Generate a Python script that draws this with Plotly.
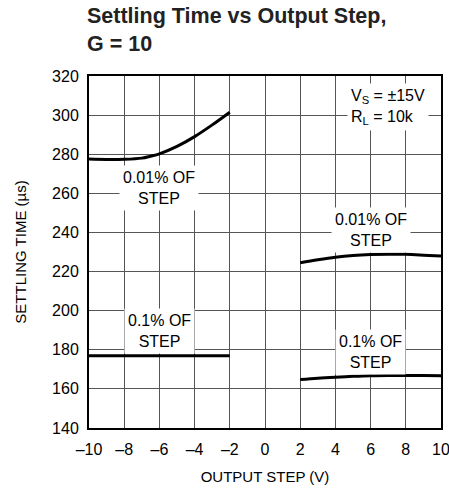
import plotly.graph_objects as go

# data
x_neg = [-10, -9, -8, -7, -6.5, -6, -5, -4, -3, -2]
t001_neg = [277.5, 277.3, 277.4, 278.0, 279.0, 280.2, 284.0, 289.0, 295.0, 301.5]
x_neg01 = [-10, -8, -6, -4, -2]
t01_neg = [177, 177, 177, 177, 177]
x_pos = [2, 3, 4, 5, 6, 7, 8, 9, 10]
t001_pos = [224.5, 226.0, 227.3, 228.2, 228.7, 228.9, 228.8, 228.4, 227.9]
t01_pos = [164.8, 165.5, 166.0, 166.4, 166.7, 166.8, 166.8, 166.8, 166.7]

x_ticks = [-10, -8, -6, -4, -2, 0, 2, 4, 6, 8, 10]
x_ticktext = ["–10", "–8", "–6", "–4", "–2", "0", "2", "4", "6", "8", "10"]
y_ticks = [140, 160, 180, 200, 220, 240, 260, 280, 300, 320]

FONT = "Liberation Sans"

fig = go.Figure()
line = dict(color="black", width=3)
fig.add_trace(go.Scatter(x=x_neg, y=t001_neg, mode="lines", line=dict(line, shape="spline")))
fig.add_trace(go.Scatter(x=x_neg01, y=t01_neg, mode="lines", line=line))
fig.add_trace(go.Scatter(x=x_pos, y=t001_pos, mode="lines", line=dict(line, shape="spline")))
fig.add_trace(go.Scatter(x=x_pos, y=t01_pos, mode="lines", line=dict(line, shape="spline")))

ann_font = dict(family=FONT, size=16, color="black")
for (ax, ay, txt) in [(-6, 262.5, "0.01% OF<br>STEP"),
                      (-6, 189.5, "0.1% OF<br>STEP"),
                      (6, 241, "0.01% OF<br>STEP"),
                      (6, 179, "0.1% OF<br>STEP")]:
    fig.add_annotation(x=ax, y=ay, text=txt, showarrow=False, font=ann_font,
                       bgcolor="white", borderpad=3)
fig.add_annotation(x=7.0, y=304, text="V<sub>S</sub> = ±15V<br>R<sub>L</sub> = 10k",
                   showarrow=False, font=ann_font, bgcolor="white", align="left", borderpad=3)

# title as paper annotation
fig.add_annotation(xref="paper", yref="paper", x=-4/352, y=(428 - 2) / 352,
                   xanchor="left", yanchor="top", align="left", showarrow=False,
                   text="<b>Settling Time vs Output Step,<br>G = 10</b>",
                   font=dict(family=FONT, size=21.5, color="#222"))

fig.update_layout(
    width=449, height=489,
    margin=dict(l=89, r=8, t=76, b=61),
    paper_bgcolor="white", plot_bgcolor="white",
    showlegend=False,
    xaxis=dict(range=[-10, 10], tickvals=x_ticks, ticktext=x_ticktext,
               showgrid=True, gridcolor="#555", gridwidth=1.2,
               showline=True, linecolor="black", linewidth=2, mirror=True,
               ticks="", zeroline=False, automargin=False, ticklabelstandoff=6,
               ticklabeloverflow="allow",
               tickfont=dict(family=FONT, size=16, color="black"),
               title=dict(text="OUTPUT STEP (V)", font=dict(family=FONT, size=15, color="black"), standoff=14)),
    yaxis=dict(range=[140, 320], tickvals=y_ticks,
               showgrid=True, gridcolor="#555", gridwidth=1.2,
               showline=True, linecolor="black", linewidth=2, mirror=True,
               ticks="", zeroline=False, automargin=False, ticklabelstandoff=5,
               ticklabeloverflow="allow",
               tickfont=dict(family=FONT, size=16, color="black"),
               title=dict(text="SETTLING TIME (µs)", font=dict(family=FONT, size=15, color="black"), standoff=22)),
)

fig.write_html("out.html", config={"displayModeBar": False},
               post_script="document.body.style.margin='0px';")
